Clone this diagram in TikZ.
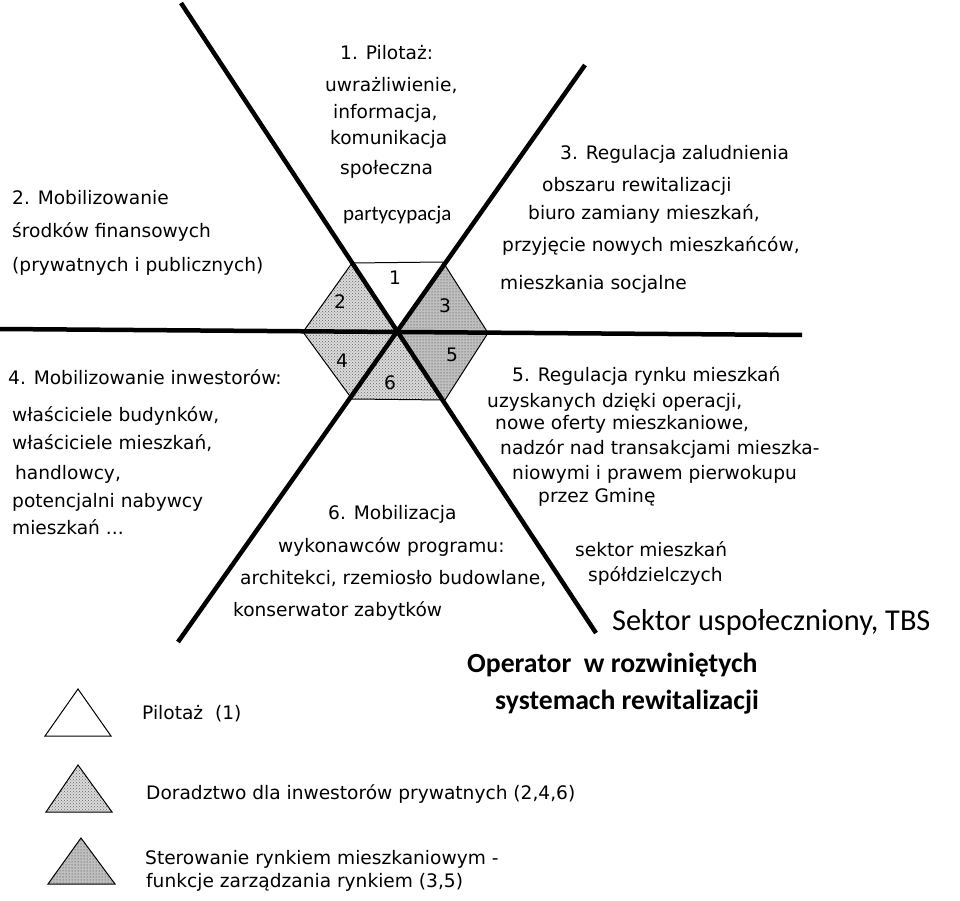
\documentclass[tikz,border=0pt]{standalone}
\usepackage{fontspec}
\setmainfont{DejaVu Sans}
\newfontfamily\calfont{Carlito}
\usetikzlibrary{patterns}
\begin{document}
\begin{tikzpicture}[x=1pt,y=-1pt,
  txt/.style={anchor=west, inner sep=0pt, font=\fontsize{18.6}{21}\selectfont, text height=13pt, text depth=4pt},
  cal/.style={anchor=west, inner sep=0pt, font=\calfont\fontsize{21}{24}\selectfont},
  big/.style={anchor=west, inner sep=0pt, font=\calfont\fontsize{30.3}{34}\selectfont},
  bigb/.style={anchor=west, inner sep=0pt, font=\calfont\bfseries\fontsize{27.7}{32}\selectfont},
  num/.style={inner sep=0pt, font=\fontsize{18.6}{21}\selectfont},
  axisline/.style={line width=4.5pt},
  thinline/.style={line width=1pt},
  light/.style={fill=gray!28, postaction={pattern=crosshatch dots, pattern color=black!60}},
  dark/.style={fill=gray!50, postaction={pattern=dots, pattern color=black!80}}
]
\useasboundingbox (0,0) rectangle (960,901);

% hexagon
\coordinate (C) at (398,332);
\coordinate (H1) at (352,263);
\coordinate (H2) at (443,262);
\coordinate (H3) at (488,333);
\coordinate (H4) at (445,400);
\coordinate (H5) at (352,399);
\coordinate (H6) at (303,332);
\path[light] (C) -- (H1) -- (H6) -- cycle;
\path[dark]  (C) -- (H2) -- (H3) -- cycle;
\path[light] (C) -- (H6) -- (H5) -- cycle;
\path[dark]  (C) -- (H3) -- (H4) -- cycle;
\path[light] (C) -- (H5) -- (H4) -- cycle;
\draw[thinline] (H1) -- (H2) -- (H3) -- (H4) -- (H5) -- (H6) -- cycle;

% axes
\coordinate (A1) at (181,3);
\coordinate (A2) at (596,633);
\coordinate (B1) at (585,65);
\coordinate (B2) at (178,642);
\coordinate (L1) at (0,329);
\coordinate (L2) at (802,335);
\draw[axisline] (A1) -- (A2);
\draw[axisline] (B1) -- (B2);
\draw[axisline] (L1) -- (L2);

% numbers
\node[num] (n1) at (395,278) {1};
\node[num] (n2) at (340,302) {2};
\node[num] (n3) at (445,306) {3};
\node[num] (n4) at (342,361) {4};
\node[num] (n5) at (452,355) {5};
\node[num] (n6) at (390,383) {6};

% group 1
\node[txt] (g1a) at (340,55) {1. Pilotaż:};
\node[txt] (g1b) at (325,87) {uwrażliwienie,};
\node[txt] (g1c) at (333,114) {informacja,};
\node[txt] (g1d) at (330,140) {komunikacja};
\node[txt] (g1e) at (340,170) {społeczna};
\node[cal] (g1f) at (343,215) {partycypacja};

% group 2
\node[txt] (g2a) at (12,200) {2. Mobilizowanie};
\node[txt] (g2b) at (12,233) {środków finansowych};
\node[txt] (g2c) at (12,267) {(prywatnych i publicznych)};

% group 3
\node[txt] (g3a) at (560,155) {3. Regulacja zaludnienia};
\node[txt] (g3b) at (542,187) {obszaru rewitalizacji};
\node[txt] (g3c) at (528,215) {biuro zamiany mieszkań,};
\node[txt] (g3d) at (502,247) {przyjęcie nowych mieszkańców,};
\node[txt] (g3e) at (500,285) {mieszkania socjalne};

% group 4
\node[txt] (g4a) at (8,380) {4. Mobilizowanie inwestorów:};
\node[txt] (g4b) at (12,417) {właściciele budynków,};
\node[txt] (g4c) at (12,445) {właściciele mieszkań,};
\node[txt] (g4d) at (15,475) {handlowcy,};
\node[txt] (g4e) at (12,503) {potencjalni nabywcy};
\node[txt] (g4f) at (12,530) {mieszkań ...};

% group 5
\node[txt] (g5a) at (512,377) {5. Regulacja rynku mieszkań};
\node[txt] (g5b) at (487,403) {uzyskanych dzięki operacji,};
\node[txt] (g5c) at (495,425) {nowe oferty mieszkaniowe,};
\node[txt] (g5d) at (500,450) {nadzór nad transakcjami mieszka-};
\node[txt] (g5e) at (512,475) {niowymi i prawem pierwokupu};
\node[txt] (g5f) at (538,498) {przez Gminę};

% group 6
\node[txt] (g6a) at (328,515) {6. Mobilizacja};
\node[txt] (g6b) at (278,548) {wykonawców programu:};
\node[txt] (g6c) at (240,580) {architekci, rzemiosło budowlane,};
\node[txt] (g6d) at (233,612) {konserwator zabytków};

% sectors
\node[txt] (s1) at (575,552) {sektor mieszkań};
\node[txt] (s2) at (588,577) {spółdzielczych};
\node[big] (s3) at (612,622) {Sektor uspołeczniony, TBS};
\node[bigb] (op1) at (467,665) {Operator~ w rozwiniętych};
\node[bigb] (op2) at (495,702) {systemach rewitalizacji};

% legend
\draw[thinline] (78,689) -- (111,736) -- (45,736) -- cycle;
\path[light] (78,765) -- (112,812) -- (46,812) -- cycle;
\draw[thinline] (78,765) -- (112,812) -- (46,812) -- cycle;
\path[dark] (81,838) -- (115,884) -- (48,884) -- cycle;
\draw[thinline] (81,838) -- (115,884) -- (48,884) -- cycle;
\node[txt] (l1) at (142,715) {Pilotaż~ (1)};
\node[txt] (l2) at (146,795) {Doradztwo dla inwestorów prywatnych (2,4,6)};
\node[txt] (l3a) at (145,860) {Sterowanie rynkiem mieszkaniowym -};
\node[txt] (l3b) at (146,883) {funkcje zarządzania rynkiem (3,5)};
\end{tikzpicture}
\end{document}
